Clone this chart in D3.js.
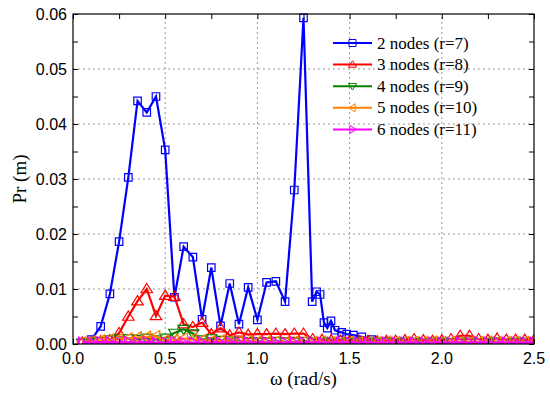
<!DOCTYPE html>
<html>
<head>
<meta charset="utf-8">
<script src="https://cdn.jsdelivr.net/npm/d3@7"></script>
<style>
  body { margin: 0; background: #fff; }
  svg { display: block; }
</style>
</head>
<body>
<svg id="canvas" width="550" height="397"></svg>
<script>
const width = 550
const height = 397
const margin = { left: 73, right: 16, top: 14, bottom: 53 }

// x positions shared by the low series
const omega = [0.05, 0.10, 0.15, 0.20, 0.25, 0.30, 0.35, 0.40, 0.45, 0.50,
    0.55, 0.60, 0.65, 0.70, 0.75, 0.80, 0.85, 0.90, 0.95, 1.00,
    1.05, 1.10, 1.15, 1.20, 1.25, 1.30, 1.35, 1.40, 1.45, 1.50,
    1.55, 1.60, 1.65, 1.70, 1.75, 1.80, 1.85, 1.90, 1.95, 2.00,
    2.05, 2.10, 2.15, 2.20, 2.25, 2.30, 2.35, 2.40, 2.45, 2.50]

// 2 nodes has its own, denser sampling around the second peak
const omega2 = [0.05, 0.10, 0.15, 0.20, 0.25, 0.30, 0.35, 0.40, 0.45, 0.50,
    0.55, 0.60, 0.65, 0.70, 0.75, 0.80, 0.85, 0.90, 0.95, 1.00,
    1.05, 1.10, 1.15, 1.20, 1.25, 1.297, 1.321, 1.34, 1.361, 1.379,
    1.399, 1.421, 1.457, 1.484, 1.52, 1.566, 1.62, 1.70, 1.80, 1.90,
    2.00, 2.10, 2.20, 2.30, 2.40, 2.50]
const pr2 = [0.0002, 0.0008, 0.0032, 0.0091, 0.0186, 0.0303, 0.0442, 0.0421, 0.0450, 0.0353,
    0.0085, 0.0177, 0.0158, 0.0045, 0.0139, 0.0033, 0.0110, 0.0036, 0.0103, 0.0044,
    0.0112, 0.0114, 0.0077, 0.0280, 0.0593, 0.0077, 0.0095, 0.0090, 0.0039, 0.0029,
    0.0042, 0.0025, 0.0021, 0.0018, 0.0016, 0.0013, 0.0008, 0.0005, 0.0003, 0.0003,
    0.0002, 0.0002, 0.0002, 0.0002, 0.0002, 0.0002]

const pr3 = [0.0003, 0.0004, 0.0005, 0.0007, 0.0020, 0.0050, 0.0078, 0.0100, 0.0051, 0.0088,
    0.0086, 0.0036, 0.0031, 0.0039, 0.0018, 0.0029, 0.0016, 0.0021, 0.0017, 0.0018,
    0.0018, 0.0019, 0.0018, 0.0019, 0.0019, 0.0009, 0.0008, 0.0007, 0.0006, 0.0006,
    0.0006, 0.0006, 0.0005, 0.0006, 0.0006, 0.0007, 0.0009, 0.0007, 0.0006, 0.0007,
    0.0009, 0.0015, 0.0015, 0.0009, 0.0008, 0.0010, 0.0008, 0.0008, 0.0008, 0.0007]

const pr4 = [0.0002, 0.0003, 0.0005, 0.0008, 0.0010, 0.0010, 0.0009, 0.0011, 0.0008, 0.0011,
    0.0020, 0.0027, 0.0019, 0.0008, 0.0010, 0.0007, 0.0006, 0.0005, 0.0005, 0.0004,
    0.0004, 0.0005, 0.0004, 0.0004, 0.0005, 0.0004, 0.0004, 0.0004, 0.0003, 0.0004,
    0.0004, 0.0003, 0.0004, 0.0004, 0.0003, 0.0004, 0.0004, 0.0003, 0.0004, 0.0004,
    0.0003, 0.0004, 0.0004, 0.0003, 0.0004, 0.0004, 0.0003, 0.0004, 0.0004, 0.0004]

const pr5 = [0.0003, 0.0005, 0.0006, 0.0008, 0.0009, 0.0010, 0.0012, 0.0013, 0.0014, 0.0006,
    0.0007, 0.0010, 0.0009, 0.0007, 0.0005, 0.0006, 0.0005, 0.0004, 0.0005, 0.0004,
    0.0004, 0.0004, 0.0003, 0.0004, 0.0004, 0.0003, 0.0004, 0.0003, 0.0003, 0.0004,
    0.0003, 0.0003, 0.0003, 0.0004, 0.0003, 0.0003, 0.0003, 0.0003, 0.0004, 0.0003,
    0.0003, 0.0003, 0.0003, 0.0003, 0.0004, 0.0003, 0.0003, 0.0003, 0.0003, 0.0003]

const pr6 = [0.0002, 0.0002, 0.0003, 0.0003, 0.0002, 0.0003, 0.0002, 0.0003, 0.0002, 0.0002,
    0.0003, 0.0002, 0.0002, 0.0002, 0.0002, 0.0002, 0.0002, 0.0002, 0.0002, 0.0002,
    0.0002, 0.0002, 0.0002, 0.0002, 0.0002, 0.0002, 0.0002, 0.0002, 0.0002, 0.0002,
    0.0002, 0.0002, 0.0002, 0.0002, 0.0002, 0.0002, 0.0002, 0.0002, 0.0002, 0.0002,
    0.0002, 0.0002, 0.0002, 0.0002, 0.0002, 0.0002, 0.0002, 0.0002, 0.0002, 0.0002]

const seriesNames = ["2 nodes (r=7)", "3 nodes (r=8)", "4 nodes (r=9)", "5 nodes (r=10)", "6 nodes (r=11)"]
const seriesX = [omega2, omega, omega, omega, omega]
const seriesY = [pr2, pr3, pr4, pr5, pr6]
const colors = ["#0000ff", "#ff0000", "#008000", "#ff7f00", "#ff00ff"]
const markers = ["square", "up", "down", "left", "right"]

const xTicks = [0, 0.5, 1.0, 1.5, 2.0, 2.5]
const yTicks = [0, 0.01, 0.02, 0.03, 0.04, 0.05, 0.06]

const svg = d3.select("#canvas")

const x = d3.scaleLinear().domain([0, 2.5]).range([margin.left, width - margin.right])
const y = d3.scaleLinear().domain([0, 0.06]).range([height - margin.bottom, margin.top])

function markerPath(type, s) {
    const h = s / 2
    if (type == "square") return `M${-h},${-h}H${h}V${h}H${-h}Z`
    if (type == "up") return `M0,${-h * 1.1}L${h * 1.15},${h * 0.75}L${-h * 1.15},${h * 0.75}Z`
    if (type == "down") return `M0,${h * 1.1}L${h * 1.15},${-h * 0.75}L${-h * 1.15},${-h * 0.75}Z`
    if (type == "left") return `M${-h * 1.1},0L${h * 0.75},${h * 1.15}L${h * 0.75},${-h * 1.15}Z`
    return `M${h * 1.1},0L${-h * 0.75},${h * 1.15}L${-h * 0.75},${-h * 1.15}Z`
}

// grid
const grid = svg.append("g")
xTicks.slice(1, -1).forEach(t => {
    grid.append("line")
        .attr("x1", x(t)).attr("x2", x(t))
        .attr("y1", y(0)).attr("y2", y(0.06))
        .attr("stroke", "#999").attr("stroke-dasharray", "2,3")
})
yTicks.slice(1, -1).forEach(t => {
    grid.append("line")
        .attr("x1", x(0)).attr("x2", x(2.5))
        .attr("y1", y(t)).attr("y2", y(t))
        .attr("stroke", "#999").attr("stroke-dasharray", "2,3")
})

// series
const clip = svg.append("clipPath").attr("id", "clip")
    .append("rect")
    .attr("x", x(0)).attr("y", y(0.06) - 6)
    .attr("width", x(2.5) - x(0)).attr("height", y(0) - y(0.06) + 6)

const line = d3.line().x(d => x(d[0])).y(d => y(d[1]))

seriesY.forEach((vals, i) => {
    const pts = vals.map((v, j) => [seriesX[i][j], v])
    const g = svg.append("g").attr("clip-path", "url(#clip)")
    g.append("path")
        .datum(pts)
        .attr("d", line)
        .attr("fill", "none")
        .attr("stroke", colors[i])
        .attr("stroke-width", i == 4 ? 2.6 : 2.2)
    g.selectAll("path.m")
        .data(pts)
        .enter().append("path")
        .attr("class", "m")
        .attr("transform", d => `translate(${x(d[0])},${y(d[1])})`)
        .attr("d", markerPath(markers[i], i == 0 ? 7.5 : 10))
        .attr("fill", "none")
        .attr("stroke", colors[i])
        .attr("stroke-width", 1.2)
})

// axes, ticks on all four sides pointing inward
const tickFont = "'Liberation Sans', Arial, sans-serif"
const xAxis = d3.axisBottom(x).tickValues(d3.range(0, 2.51, 0.25)).tickSizeInner(-5).tickSizeOuter(0).tickFormat("")
const xAxisTop = d3.axisTop(x).tickValues(d3.range(0, 2.51, 0.25)).tickSizeInner(-5).tickSizeOuter(0).tickFormat("")
const yAxis = d3.axisLeft(y).tickValues(d3.range(0, 0.0601, 0.005)).tickSizeInner(-5).tickSizeOuter(0).tickFormat("")
const yAxisRight = d3.axisRight(y).tickValues(d3.range(0, 0.0601, 0.005)).tickSizeInner(-5).tickSizeOuter(0).tickFormat("")

svg.append("g").attr("transform", `translate(0,${y(0)})`).call(xAxis)
svg.append("g").attr("transform", `translate(0,${y(0.06)})`).call(xAxisTop)
svg.append("g").attr("transform", `translate(${x(0)},0)`).call(yAxis)
svg.append("g").attr("transform", `translate(${x(2.5)},0)`).call(yAxisRight)
svg.selectAll(".domain").remove()
svg.selectAll(".tick line").attr("stroke", "#000")

svg.append("rect")
    .attr("x", x(0)).attr("y", y(0.06))
    .attr("width", x(2.5) - x(0)).attr("height", y(0) - y(0.06))
    .attr("fill", "none").attr("stroke", "#000").attr("stroke-width", 1.2)

// tick labels
svg.selectAll("text.xt")
    .data(xTicks)
    .enter().append("text")
    .attr("x", d => x(d)).attr("y", y(0) + 20)
    .attr("text-anchor", "middle")
    .style("font-family", tickFont).style("font-size", "16px")
    .text(d => d.toFixed(1))

svg.selectAll("text.yt")
    .data(yTicks)
    .enter().append("text")
    .attr("x", x(0) - 6).attr("y", d => y(d) + 5.5)
    .attr("text-anchor", "end")
    .style("font-family", tickFont).style("font-size", "16px")
    .text(d => d.toFixed(2))

// axis titles
const serif = "'Liberation Serif', 'Times New Roman', serif"
svg.append("text")
    .attr("x", (x(0) + x(2.5)) / 2).attr("y", 385)
    .attr("text-anchor", "middle")
    .style("font-family", serif).style("font-size", "19px")
    .text("ω (rad/s)")

svg.append("text")
    .attr("transform", `translate(26,${(y(0) + y(0.06)) / 2}) rotate(-90)`)
    .attr("text-anchor", "middle")
    .style("font-family", serif).style("font-size", "19px")
    .text("Pr (m)")

// legend
const legend = svg.append("g")
seriesNames.forEach((name, i) => {
    const ly = 43 + i * 21.6
    legend.append("line")
        .attr("x1", 333).attr("x2", 372)
        .attr("y1", ly).attr("y2", ly)
        .attr("stroke", colors[i]).attr("stroke-width", 2)
    legend.append("path")
        .attr("transform", `translate(352.5,${ly})`)
        .attr("d", markerPath(markers[i], 7))
        .attr("fill", "none").attr("stroke", colors[i])
    legend.append("text")
        .attr("x", 377).attr("y", ly + 5.5)
        .style("font-family", serif).style("font-size", "17px")
        .text(name)
})
</script>
</body>
</html>
